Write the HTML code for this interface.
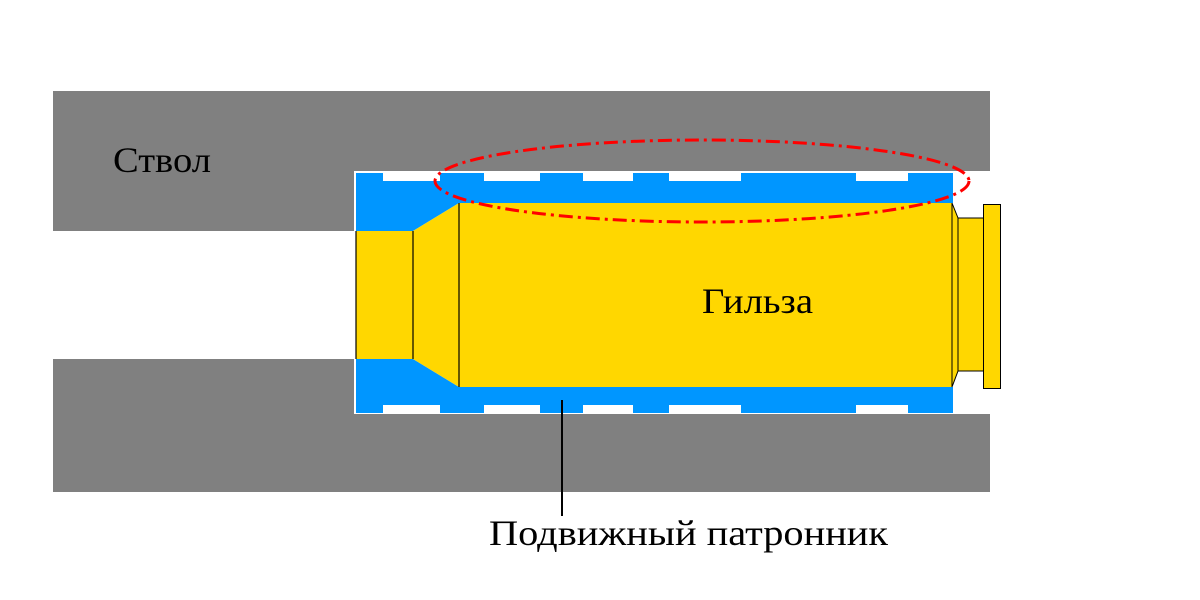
<!DOCTYPE html><html><head><meta charset="utf-8"><style>body{margin:0;background:#fff}</style></head><body>
<svg width="1200" height="600" xmlns="http://www.w3.org/2000/svg" style="display:block">
<rect width="1200" height="600" fill="#fff"/>
<g fill="#808080">
<rect x="53" y="91" width="937" height="80"/>
<rect x="53" y="171" width="301" height="60"/>
<rect x="53" y="414" width="937" height="78"/>
<rect x="53" y="359" width="301" height="56"/>
</g>
<g fill="#0096ff">
<rect x="356" y="173" width="597" height="30"/>
<rect x="356" y="387" width="597" height="26"/>
<polygon points="356,203 459,203 413,231 356,231"/>
<polygon points="356,359 413,359 459,387 356,387"/>
</g>
<g fill="#fff">
<rect x="383" y="173" width="57" height="8"/><rect x="484" y="173" width="56" height="8"/><rect x="583" y="173" width="50" height="8"/><rect x="669" y="173" width="72" height="8"/><rect x="856" y="173" width="52" height="8"/>
<rect x="383" y="405" width="57" height="8"/><rect x="484" y="405" width="56" height="8"/><rect x="583" y="405" width="50" height="8"/><rect x="669" y="405" width="72" height="8"/><rect x="856" y="405" width="52" height="8"/>
</g>
<g fill="#ffd700" stroke="#000" stroke-width="1">
<rect x="356" y="231" width="57" height="128" stroke="none"/>
<polygon points="413,231 459,203 459,387 413,359" stroke="none"/>
<rect x="459" y="203" width="493" height="184" stroke="none"/>
<polygon points="952,203 958,218 958,371 952,387"/>
<rect x="958" y="218" width="26" height="153"/>
<rect x="983.5" y="204.5" width="17" height="184"/>
</g>
<g stroke="#000" stroke-width="1.2">
<line x1="356" y1="231" x2="356" y2="359"/><line x1="413" y1="231" x2="413" y2="359"/><line x1="459" y1="203" x2="459" y2="387"/>
<line x1="562" y1="400" x2="562" y2="516" stroke-width="2"/>
</g>
<ellipse cx="702" cy="181" rx="267" ry="41" fill="none" stroke="#f00" stroke-width="3" stroke-dasharray="14,5,3,5"/>
<g font-family="Liberation Serif, serif" fill="#000" font-size="36">
<text x="113" y="172" textLength="98" lengthAdjust="spacingAndGlyphs">Ствол</text>
<text x="702" y="313" textLength="111" lengthAdjust="spacingAndGlyphs">Гильза</text>
<text x="489" y="545" textLength="399" lengthAdjust="spacingAndGlyphs">Подвижный патронник</text>
</g>
</svg>
</body></html>
